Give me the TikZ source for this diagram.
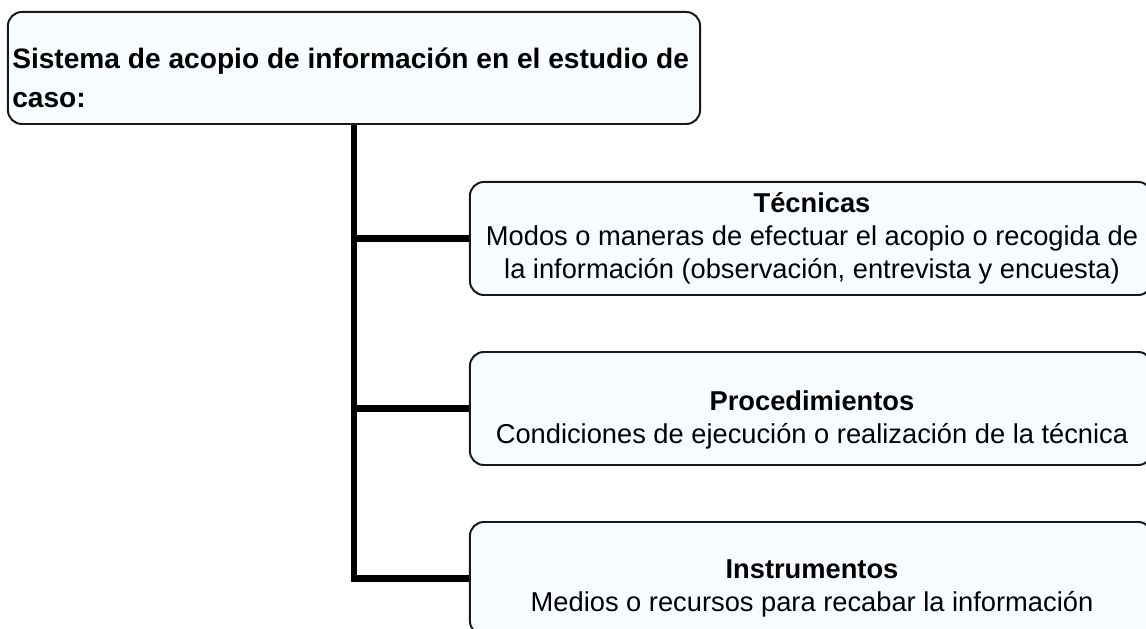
\documentclass[tikz,border=0pt]{standalone}
\usepackage{fontspec}
\setmainfont{Liberation Sans}

\definecolor{boxfill}{RGB}{248,252,255}
\definecolor{boxline}{RGB}{25,25,25}

\tikzset{
    box/.style={draw=boxline, line width=1.4pt, fill=boxfill, rounded corners=0.35cm, inner sep=0pt},
    sidebox/.style={box, minimum width=17.05cm, minimum height=2.825cm},
    branch/.style={draw=black, line width=4.3pt},
    boxtext/.style={align=center, inner sep=0pt, font=\fontsize{19.4}{23.5}\selectfont}
}

\begin{document}
\begin{tikzpicture}[x=0.025cm, y=-0.025cm]
    \clip (0,0) rectangle (1146,629);

    % Main box
    \node[box, minimum width=17.3cm, minimum height=2.8cm] (sistema) at (354, 68) {};
    \node[anchor=west, align=left, inner sep=0pt, font=\bfseries\fontsize{20}{27.7}\selectfont] (sistematxt) at (12, 77.5) {Sistema de acopio de información en el estudio de\\caso:};

    % Boxes on the right
    \node[sidebox] (tecnicas) at (811, 238.5) {};
    \node[sidebox] (procedimientos) at (811, 408.5) {};
    \node[sidebox] (instrumentos) at (811, 578.5) {};

    % Connectors
    \draw[branch] (sistema.south) |- (instrumentos.west);
    \draw[branch] (sistema.south |- tecnicas.west) -- (tecnicas.west);
    \draw[branch] (sistema.south |- procedimientos.west) -- (procedimientos.west);

    % Texts of the boxes
    \node[boxtext] (tecnicastxt) at (812, 238) {\textbf{Técnicas}\\Modos o maneras de efectuar el acopio o recogida de\\la información (observación, entrevista y encuesta)};
    \node[boxtext] (procedimientostxt) at (812, 419.5) {\textbf{Procedimientos}\\Condiciones de ejecución o realización de la técnica};
    \node[boxtext] (instrumentostxt) at (812, 588.5) {\textbf{Instrumentos}\\Medios o recursos para recabar la información};
\end{tikzpicture}
\end{document}
